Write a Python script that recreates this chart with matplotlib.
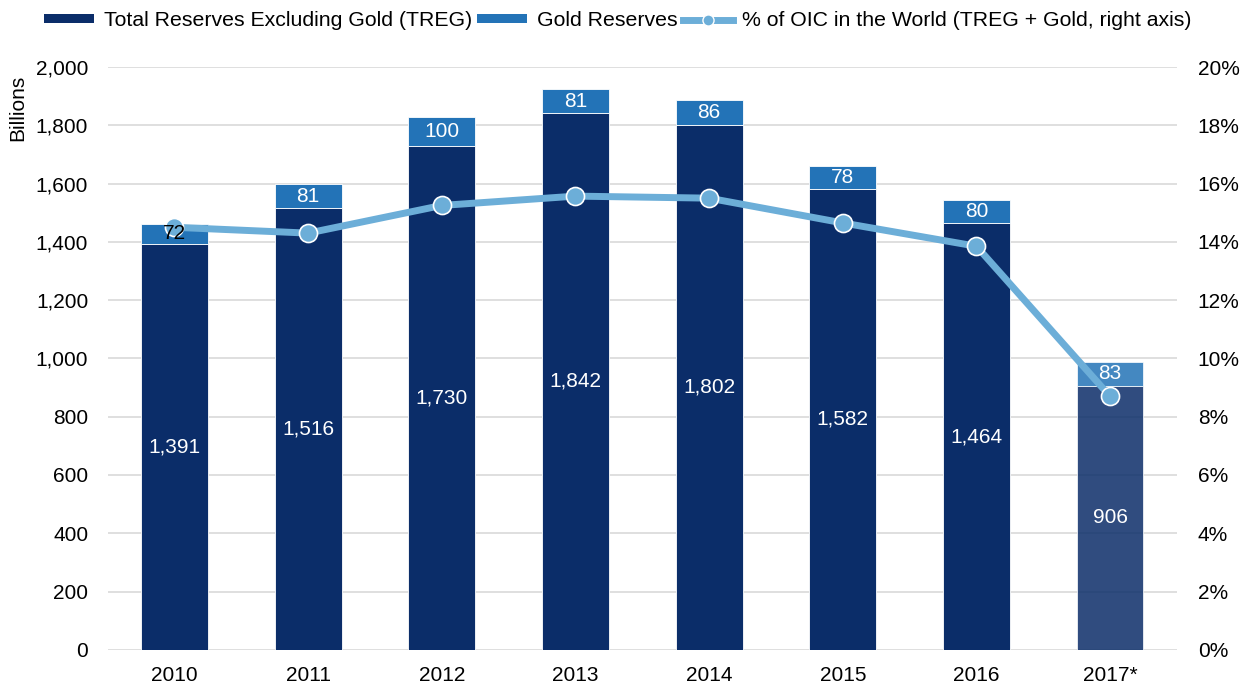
import matplotlib.pyplot as plt
import numpy as np
from matplotlib.lines import Line2D
from matplotlib.patches import Patch

plt.rcParams["font.family"] = ["Liberation Sans", "DejaVu Sans"]

years = ["2010", "2011", "2012", "2013", "2014", "2015", "2016", "2017*"]
treg = [1391, 1516, 1730, 1842, 1802, 1582, 1464, 906]
gold = [72, 81, 100, 81, 86, 78, 80, 83]
oic_share = [14.5, 14.3, 15.25, 15.57, 15.5, 14.65, 13.85, 8.7]

C_TREG = "#0B2D69"
C_GOLD = "#2373B7"
C_LINE = "#6CAED8"
FS = 15

fig, ax = plt.subplots(figsize=(12.52, 6.84), dpi=100)
fig.subplots_adjust(left=0.086, right=0.94, top=0.902, bottom=0.05)

x = np.arange(len(years))
width = 0.5

for i in range(len(years)):
    alpha = 0.85 if i == len(years) - 1 else 1.0
    ax.bar(x[i], treg[i], width, color=C_TREG, alpha=alpha, zorder=2,
           edgecolor="white", linewidth=0.6)
    ax.bar(x[i], gold[i], width, bottom=treg[i], color=C_GOLD, alpha=alpha,
           zorder=2, edgecolor="white", linewidth=0.6)
    ax.text(x[i], treg[i] / 2, f"{treg[i]:,}", ha="center", va="center",
            color="white", fontsize=FS, zorder=5)
    if i > 0:
        ax.text(x[i], treg[i] + gold[i] / 2, f"{gold[i]}", ha="center",
                va="center", color="white", fontsize=FS, zorder=6)

ax.set_xlim(-0.5, len(years) - 0.5)
ax.set_ylim(0, 2000)
ax.set_yticks(np.arange(0, 2001, 200))
ax.set_yticklabels([f"{v:,}" for v in range(0, 2001, 200)])
ax.set_xticks(x)
ax.set_xticklabels(years)
ax.yaxis.grid(True, color="#D9D9D9", linewidth=1.2, zorder=0)
ax.set_axisbelow(True)
ax.tick_params(axis="y", length=0, labelsize=FS, pad=14)
ax.tick_params(axis="x", length=0, labelsize=FS, pad=12)
for s in ax.spines.values():
    s.set_visible(False)
ax.set_ylabel("Billions", fontsize=FS)
ax.yaxis.set_label_coords(-0.075, 0.93)

ax2 = ax.twinx()
ax2.plot(x, oic_share, color=C_LINE, linewidth=5, marker="o", markersize=13,
         markerfacecolor=C_LINE, markeredgecolor="white", markeredgewidth=1.2,
         zorder=4)
ax2.set_ylim(0, 20)
ax2.set_yticks(np.arange(0, 21, 2))
ax2.set_yticklabels([f"{v}%" for v in range(0, 21, 2)])
ax2.tick_params(length=0, labelsize=FS, pad=15)
for s in ax2.spines.values():
    s.set_visible(False)

# line drawn over the bars; the 2010 gold label sits on top of its marker
ax.set_zorder(ax2.get_zorder() - 1)
ax.patch.set_visible(False)
ax2.text(x[0], (treg[0] + gold[0] / 2) / 100, f"{gold[0]}", ha="center",
         va="center", color="black", fontsize=FS, zorder=6)

handles = [
    Patch(facecolor=C_TREG, label="Total Reserves Excluding Gold (TREG)"),
    Patch(facecolor=C_GOLD, label="Gold Reserves"),
    Line2D([0], [0], color=C_LINE, linewidth=5, marker="o", markersize=8,
           markerfacecolor=C_LINE, markeredgecolor="white",
           label="% of OIC in the World (TREG + Gold, right axis)"),
]
fig.legend(handles=handles, loc="upper left", bbox_to_anchor=(0.02, 1.012),
           ncol=3, frameon=False, fontsize=15.3, handlelength=2.35,
           handleheight=0.3, handletextpad=0.45, columnspacing=0.25)

fig.savefig("out.png", dpi=100)
